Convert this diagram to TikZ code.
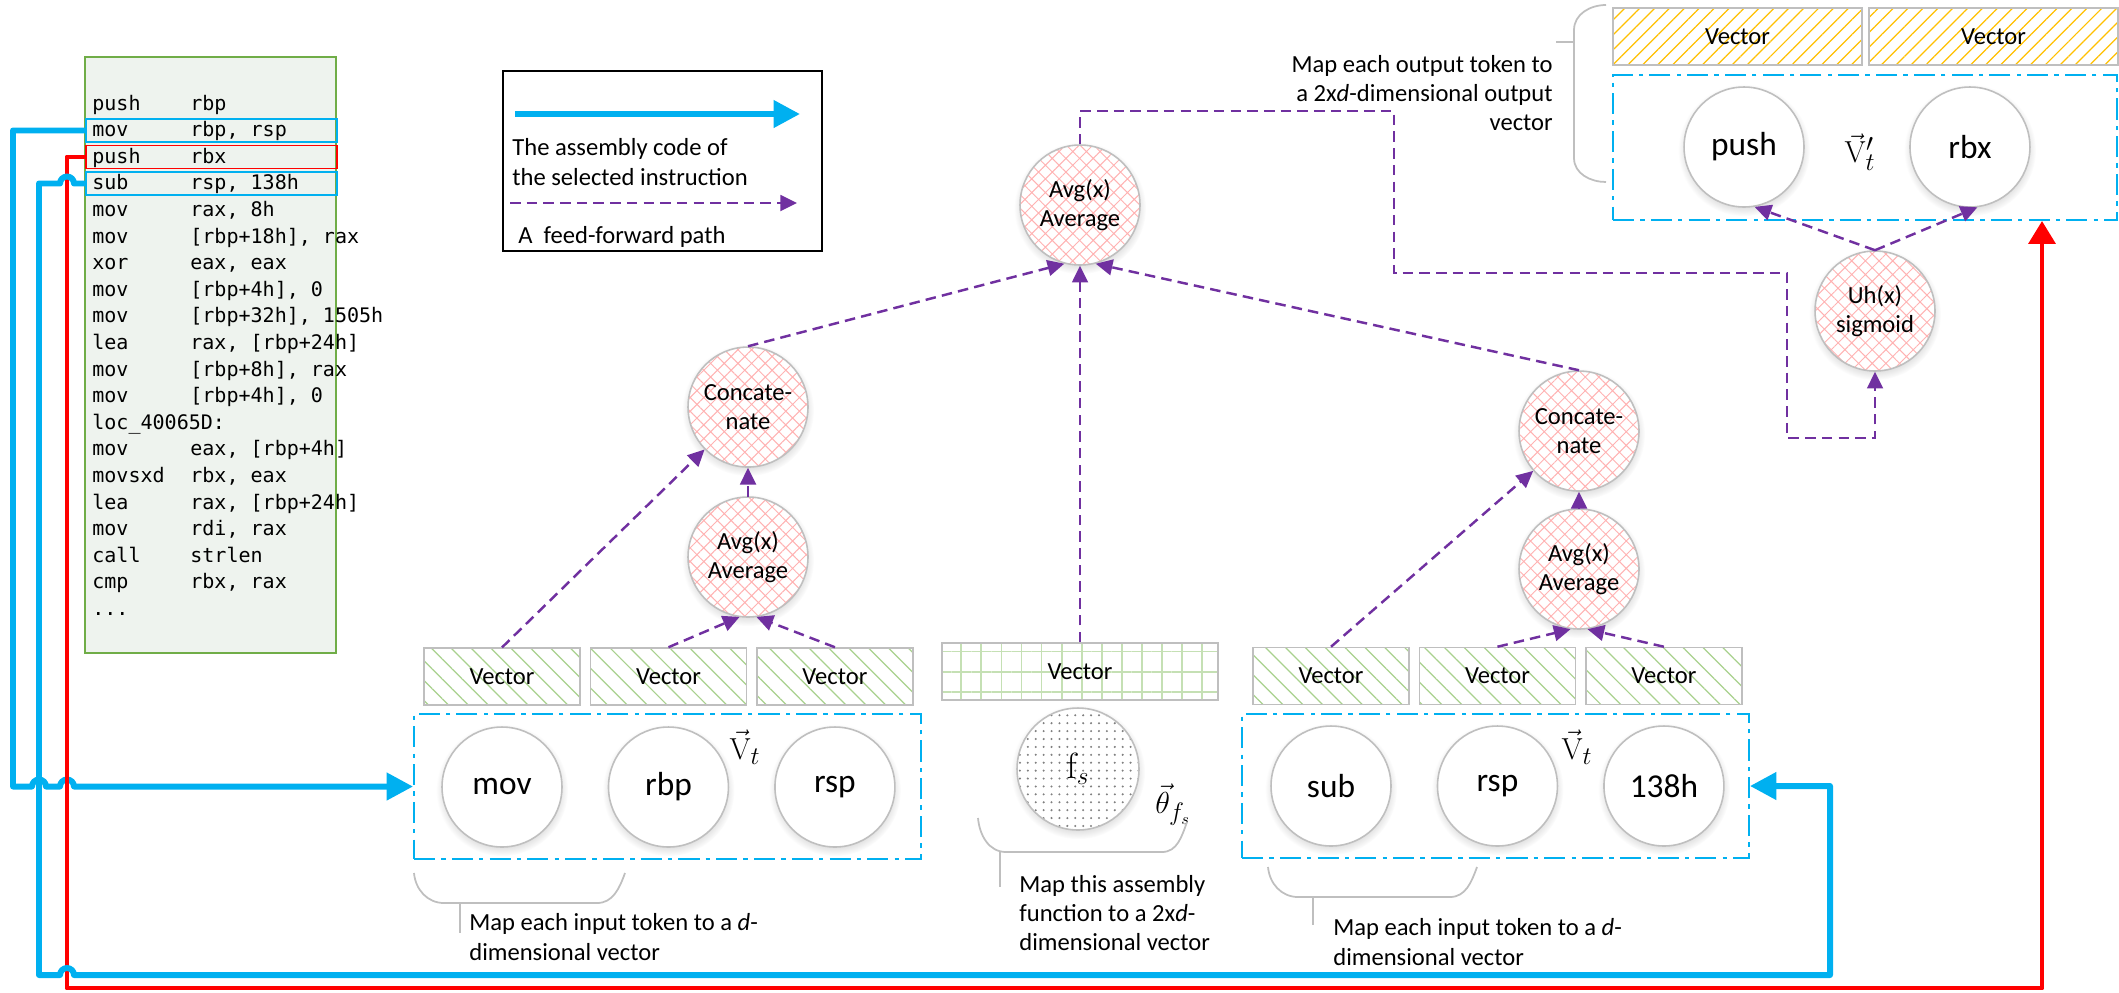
\documentclass[tikz,border=0pt]{standalone}
\usepackage[no-math]{fontspec}
\setmainfont{Carlito}
\newfontfamily\asmfont{DejaVu Sans Mono}
\usetikzlibrary{positioning,arrows.meta,patterns.meta,shadows}

\definecolor{selblue}{RGB}{0,176,240}
\definecolor{selred}{RGB}{255,0,0}
\definecolor{ffpurple}{RGB}{112,48,160}
\definecolor{hatchpink}{RGB}{255,178,178}
\definecolor{hatchgreen}{RGB}{169,209,142}
\definecolor{gridgreen}{RGB}{197,224,180}
\definecolor{hatchorange}{RGB}{255,192,0}
\definecolor{rimgray}{RGB}{191,191,191}
\definecolor{codegreen}{RGB}{112,173,71}
\definecolor{codebg}{RGB}{238,243,238}
\newcommand{\asmdots}{...}

\tikzset{
  lbl/.style={font=\fontsize{14pt}{16.6pt}\selectfont},
  codebox/.style={draw=codegreen, line width=0.9pt, fill=codebg,
    minimum width=5.02cm, minimum height=11.92cm},
  codeln/.style={anchor=base west, font=\asmfont\fontsize{11.4pt}{14pt}\selectfont},
  hlbox/.style={draw, line width=1.1pt, minimum width=5.02cm, minimum height=0.46cm},
  legendbox/.style={draw=black, line width=1.1pt, minimum width=6.38cm, minimum height=3.6cm},
  tok/.style={circle, draw=rimgray, line width=0.9pt, fill=white, minimum size=2.4cm,
    circular drop shadow={shadow xshift=0pt, shadow yshift=-1.6pt, opacity=0.25},
    font=\fontsize{19pt}{22pt}\selectfont},
  op/.style={circle, draw=rimgray, line width=0.9pt, minimum size=2.4cm, align=center,
    circular drop shadow={shadow xshift=0pt, shadow yshift=-1.6pt, opacity=0.25},
    preaction={fill=white},
    pattern={Hatch[angle=45,distance=5.5pt,line width=0.55pt]}, pattern color=hatchpink,
    font=\fontsize{14pt}{16.2pt}\selectfont},
  fsnode/.style={circle, draw=rimgray, line width=0.9pt, minimum size=2.44cm,
    circular drop shadow={shadow xshift=0pt, shadow yshift=-1.6pt, opacity=0.25},
    preaction={fill=white},
    pattern={Dots[distance=4.5pt,radius=0.65pt]}, pattern color=gray,
    font=\fontsize{22pt}{24pt}\selectfont},
  vecbox/.style={rectangle, draw=rimgray, line width=0.9pt, minimum width=3.12cm,
    minimum height=1.14cm, preaction={fill=white},
    pattern={Lines[angle=-45,distance=8pt,line width=0.7pt]}, pattern color=hatchgreen,
    font=\fontsize{14pt}{16.6pt}\selectfont},
  outvec/.style={vecbox, minimum width=4.98cm,
    pattern={Lines[angle=45,distance=6pt,line width=0.7pt]}, pattern color=hatchorange},
  gridbox/.style={vecbox, minimum width=5.52cm,
    pattern={Hatch[angle=0,distance=11.4pt,line width=1.1pt]}, pattern color=gridgreen},
  tokbox/.style={rectangle, draw=selblue, line width=1.1pt,
    dash pattern=on 12pt off 3.5pt on 2.5pt off 3.5pt},
  ff/.style={draw=ffpurple, line width=1.4pt, dash pattern=on 6pt off 3.5pt,
    -{Triangle[length=9.5pt,width=9pt]}},
  sel/.style={line width=3.4pt, line join=round, -{Triangle[length=15pt,width=15pt]}},
  brace/.style={draw=rimgray, line width=1pt},
  vlabel/.style={font=\fontsize{19pt}{22pt}\selectfont}
}

\begin{document}
\begin{tikzpicture}[x=0.02cm, y=-0.02cm, node distance=3.33cm, on grid,
    every node/.style={inner sep=0pt}]
  \useasboundingbox (0,0) rectangle (2119,992);

  % assembly listing
  \node[codebox] (code) at (210.5,355) {};
  \foreach \mnem/\opnd [count=\i from 0] in {push/rbp, mov/{rbp, rsp}, push/rbx,
      sub/{rsp, 138h}, mov/{rax, 8h}, mov/{[rbp+18h], rax}, xor/{eax, eax},
      mov/{[rbp+4h], 0}, mov/{[rbp+32h], 1505h}, lea/{rax, [rbp+24h]},
      mov/{[rbp+8h], rax}, mov/{[rbp+4h], 0}, loc\_40065D:/{}, mov/{eax, [rbp+4h]},
      movsxd/{rbx, eax}, lea/{rax, [rbp+24h]}, mov/{rdi, rax}, call/strlen,
      cmp/{rbx, rax}, \asmdots/{}}
  {
    \node[codeln] (op_\i) at (92,{110+26.6*\i}) {\mnem};
    \node[codeln] (arg_\i) at (190,{110+26.6*\i}) {\opnd};
  }
  \node[hlbox, draw=selblue] (sel_a) at (211.5,130.5) {};
  \node[hlbox, draw=selred] (sel_b) at (211.5,157) {};
  \node[hlbox, draw=selblue] (sel_c) at (211.5,183.5) {};

  % legend
  \node[legendbox] (legend) at (662.5,161) {};
  \coordinate (lg_a) at (515,114);
  \coordinate (lg_b) at (800,114);
  \draw[sel, selblue] (lg_a) -- (lg_b);
  \node[lbl, anchor=west, align=left] (lg_sel) at (512,162)
    {The assembly code of\\the selected instruction};
  \coordinate (lg_c) at (510,203);
  \coordinate (lg_d) at (797,203);
  \draw[ff] (lg_c) -- (lg_d);
  \node[lbl, anchor=west] (lg_ff) at (518,237) {A\ \ feed-forward path};

  % input tokens, left
  \node[tokbox, minimum width=10.14cm, minimum height=2.9cm] (in_l) at (667.5,786.5) {};
  \node[tok] (mov) at (502,787) {mov};
  \node[tok] (rbp_l) [right = of mov] {rbp};
  \node[tok] (rsp_l) [right = of rbp_l] {rsp};
  \node[vecbox] (vec_l1) [above = 2.21cm of mov] {Vector};
  \node[vecbox] (vec_l2) [above = 2.21cm of rbp_l] {Vector};
  \node[vecbox] (vec_l3) [above = 2.21cm of rsp_l] {Vector};
  \node[vlabel] (v_l) at (745,747) {$\vec{\mathrm{V}}_t$};

  % input tokens, right
  \node[tokbox, minimum width=10.14cm, minimum height=2.88cm] (in_r) at (1495.5,786) {};
  \node[tok] (sub) at (1331,786) {sub};
  \node[tok] (rsp_r) [right = of sub] {rsp};
  \node[tok] (hex) [right = of rsp_r] {138h};
  \node[vecbox] (vec_r1) [above = 2.2cm of sub] {Vector};
  \node[vecbox] (vec_r2) [above = 2.2cm of rsp_r] {Vector};
  \node[vecbox] (vec_r3) [above = 2.2cm of hex] {Vector};
  \node[vlabel] (v_r) at (1577,747) {$\vec{\mathrm{V}}_t$};

  % function vector
  \node[gridbox] (fs_vec) at (1080,671.5) {Vector};
  \node[fsnode] (fs) at (1078,769) {$\mathrm{f}_s$};
  \node[vlabel] (theta) at (1173,805) {$\vec{\theta}_{f_s}$};

  % output tokens
  \node[tokbox, minimum width=10.08cm, minimum height=2.9cm] (out_t) at (1865,147.5) {};
  \node[tok] (push) at (1744,147) {push};
  \node[tok] (rbx) [right = 4.52cm of push] {rbx};
  \node[outvec] (vec_o1) at (1737.5,36.5) {Vector};
  \node[outvec] (vec_o2) at (1993.5,36.5) {Vector};
  \node[vlabel] (v_o) at (1860,152) {$\vec{\mathrm{V}}'_t$};

  % operations
  \node[op] (avg_l) at (748,557) {Avg(x)\\Average};
  \node[op] (conc_l) [above = 3cm of avg_l] {Concate-\\nate};
  \node[op] (avg_r) at (1579,569) {Avg(x)\\Average};
  \node[op] (conc_r) [above = 2.76cm of avg_r] {Concate-\\nate};
  \node[op] (avg_t) at (1080,205) {Avg(x)\\Average};
  \node[op] (uh) at (1875,311) {Uh(x)\\sigmoid};

  % braces and their notes
  \draw[brace] (414,873) to[out=-85,in=180] (444,903) -- (597,903) to[out=0,in=-110] (625,873);
  \draw[brace] (460,903) -- (460,933);
  \node[lbl, anchor=west, align=left] (map_in_l) at (469,937)
    {Map each input token to a \textit{d}-\\dimensional vector};
  \draw[brace] (1268,867) to[out=-85,in=180] (1298,897) -- (1450,897) to[out=0,in=-110] (1477,867);
  \draw[brace] (1313,897) -- (1313,925);
  \node[lbl, anchor=west, align=left] (map_in_r) at (1333,942)
    {Map each input token to a \textit{d}-\\dimensional vector};
  \draw[brace] (978,818) to[out=-85,in=180] (1006,852) -- (1162,852) to[out=0,in=-110] (1187,822);
  \draw[brace] (1000,852) -- (1000,887);
  \node[lbl, anchor=west, align=left] (map_fn) at (1019,913)
    {Map this assembly\\function to a 2x\textit{d}-\\dimensional vector};
  \draw[brace] (1606,5) to[out=180,in=90] (1574,30) -- (1574,158) to[out=-90,in=180] (1606,182);
  \draw[brace] (1574,42) -- (1556,42);
  \node[lbl, anchor=east, align=right] (map_out) at (1553,93)
    {Map each output token to\\a 2x\textit{d}-dimensional output\\vector};

  % feed-forward paths
  \draw[ff] (vec_l1.north) -- (conc_l);
  \draw[ff] (vec_l2.north) -- (avg_l.262);
  \draw[ff] (vec_l3.north) -- (avg_l.278);
  \draw[ff] (avg_l.north) -- (conc_l.south);
  \draw[ff] (conc_l.north) -- (avg_t.255);
  \draw[ff] (vec_r1.north) -- (conc_r);
  \draw[ff] (vec_r2.north) -- (avg_r.262);
  \draw[ff] (vec_r3.north) -- (avg_r.278);
  \draw[ff] (avg_r.north) -- (conc_r.south);
  \draw[ff] (conc_r.north) -- (avg_t.285);
  \draw[ff] (fs_vec.north) -- (avg_t.south);
  \draw[ff] (avg_t.north) -- ++(0,-33) -| (1394,273) -| (1787,438) -| (uh.south);
  \draw[ff] (uh.north) -- (push.-80);
  \draw[ff] (uh.north) -- (rbx.-83);

  % selected instructions
  \coordinate (turn_b) at (1830,975);
  \coordinate (turn_r) at (2042,988);
  \draw[sel, selblue] (sel_a.west) -- (13,130.5) -- (13,786.5) -- (32,786.5)
    arc[start angle=180, end angle=0, radius=0.14cm] -- (60,786.5)
    arc[start angle=180, end angle=0, radius=0.14cm] -- (in_l.west);
  \draw[sel, selred, line width=2.8pt, -{Triangle[length=13pt,width=15pt]}]
    (sel_b.west) -- (67,157) -- (67,988) -- (turn_r) -- (turn_r |- out_t.south);
  \draw[sel, selblue] (sel_c.west) -- (74,183.5)
    arc[start angle=0, end angle=180, radius=0.14cm] -- (39,183.5) -- (39,975) -- (60,975)
    arc[start angle=180, end angle=0, radius=0.14cm] -- (turn_b) |- (in_r.east);
\end{tikzpicture}
\end{document}
